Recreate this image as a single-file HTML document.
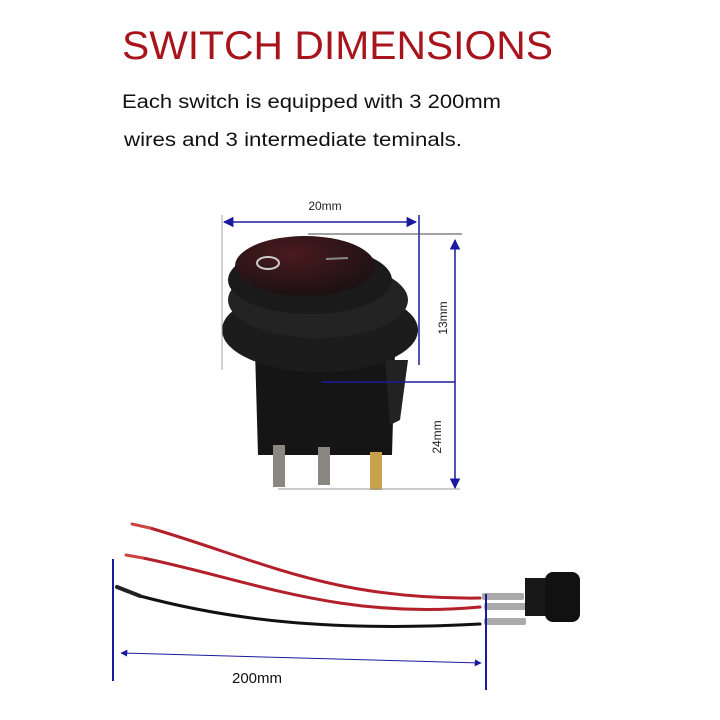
<!DOCTYPE html>
<html><head><meta charset="utf-8"><style>
html,body{margin:0;padding:0;background:#fff;}
svg{display:block;}
text{font-family:"Liberation Sans",sans-serif;}
</style></head><body>
<svg width="720" height="720" viewBox="0 0 720 720" xmlns="http://www.w3.org/2000/svg">
<defs>
<marker id="ah" viewBox="0 0 10 10" refX="9" refY="5" markerWidth="7" markerHeight="7" orient="auto-start-reverse"><path d="M0,0 L10,5 L0,10 z" fill="#1a1aa0"/></marker>
<radialGradient id="cap" cx="0.4" cy="0.3" r="0.8"><stop offset="0" stop-color="#4a1a1e"/><stop offset="1" stop-color="#151012"/></radialGradient>
</defs>
<text x="122" y="59" font-size="40" fill="#a8141c" textLength="431" lengthAdjust="spacingAndGlyphs">SWITCH DIMENSIONS</text>
<text x="122" y="108" font-size="19" fill="#111" textLength="379" lengthAdjust="spacingAndGlyphs">Each switch is equipped with 3 200mm</text>
<text x="124" y="146" font-size="19" fill="#111" textLength="338" lengthAdjust="spacingAndGlyphs">wires and 3 intermediate teminals.</text>

<!-- switch photo -->
<path d="M255,350 L395,350 L392,455 L258,455 Z" fill="#151515"/>
<path d="M385,360 L408,360 L400,420 L390,425 Z" fill="#222"/>
<rect x="273" y="445" width="12" height="42" fill="#8a8780"/>
<rect x="318" y="447" width="12" height="38" fill="#8a8780"/>
<rect x="370" y="452" width="12" height="38" fill="#c8a24a"/>
<ellipse cx="320" cy="330" rx="98" ry="42" fill="#1c1c1c"/>
<ellipse cx="318" cy="300" rx="90" ry="38" fill="#232323"/>
<ellipse cx="310" cy="280" rx="82" ry="34" fill="#1a1a1a"/>
<ellipse cx="305" cy="266" rx="70" ry="30" fill="url(#cap)"/>
<ellipse cx="268" cy="263" rx="11" ry="6" fill="none" stroke="#ccc" stroke-width="2"/>
<line x1="326" y1="259" x2="348" y2="258" stroke="#888" stroke-width="2"/>

<!-- dimension lines -->
<g stroke="#1a1aa0" stroke-width="1.5" fill="none">
<line x1="222" y1="215" x2="222" y2="370" stroke="#9aa" stroke-width="1"/>
<line x1="419" y1="215" x2="419" y2="365"/>
<line x1="224" y1="222" x2="416" y2="222" marker-start="url(#ah)" marker-end="url(#ah)"/>
<line x1="308" y1="234" x2="462" y2="234" stroke="#444" stroke-width="1"/>
<line x1="455" y1="240" x2="455" y2="488" marker-start="url(#ah)" marker-end="url(#ah)"/>
<line x1="322" y1="382" x2="455" y2="382"/>
<line x1="278" y1="489" x2="460" y2="489" stroke="#999" stroke-width="1"/>
</g>
<text x="325" y="210" font-size="12" fill="#222" text-anchor="middle">20mm</text>
<text transform="translate(447,318) rotate(-90)" font-size="12" fill="#222" text-anchor="middle">13mm</text>
<text transform="translate(441,437) rotate(-90)" font-size="12" fill="#222" text-anchor="middle">24mm</text>

<!-- wires -->
<g fill="none" stroke-linecap="round">
<path d="M150,528 C260,560 330,600 480,598" stroke="#b3202a" stroke-width="3"/>
<path d="M143,558 C250,580 340,620 480,607" stroke="#b3202a" stroke-width="3"/>
<path d="M140,596 C230,620 330,632 480,624" stroke="#111" stroke-width="3"/>
<line x1="132" y1="524" x2="150" y2="528" stroke="#c44" stroke-width="3"/>
<line x1="126" y1="555" x2="143" y2="558" stroke="#c44" stroke-width="3"/>
<line x1="117" y1="587" x2="140" y2="596" stroke="#222" stroke-width="4"/>
</g>
<g fill="#aaa">
<rect x="482" y="593" width="42" height="7" rx="2"/>
<rect x="484" y="603" width="42" height="7" rx="2"/>
<rect x="484" y="618" width="42" height="7" rx="2"/>
</g>
<rect x="525" y="578" width="22" height="38" fill="#181818"/>
<rect x="545" y="572" width="35" height="50" rx="8" fill="#111"/>
<g stroke="#1a1aa0" stroke-width="2">
<line x1="113" y1="559" x2="113" y2="681"/>
<line x1="486" y1="594" x2="486" y2="690"/>
</g>
<line x1="121" y1="653" x2="481" y2="663" stroke="#1a1aa0" stroke-width="1" marker-start="url(#ah)" marker-end="url(#ah)"/>
<text x="257" y="683" font-size="15" fill="#111" text-anchor="middle">200mm</text>
</svg>
</body></html>
